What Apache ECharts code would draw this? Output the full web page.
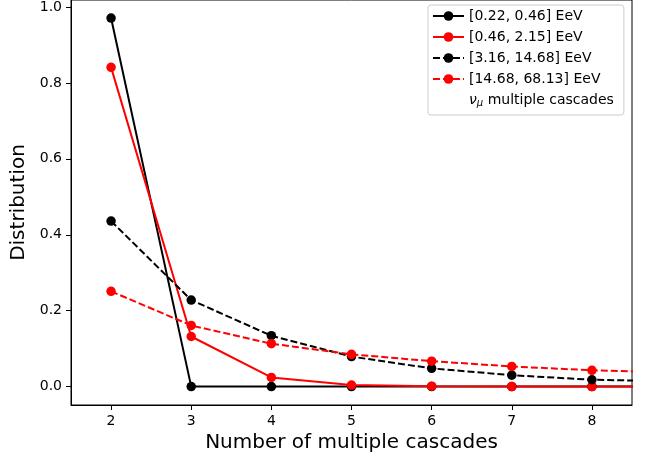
<!DOCTYPE html>
<html>
<head>
<meta charset="utf-8">
<script src="https://cdn.jsdelivr.net/npm/echarts@6/dist/echarts.min.js"></script>
<style>
html,body{margin:0;padding:0;background:#fff;}
#chart{width:657px;height:462px;}
</style>
</head>
<body>
<div id="chart"></div>
<script>
const xValues = [2, 3, 4, 5, 6, 7, 8, 9];
const seriesNames = ['[0.22, 0.46] EeV', '[0.46, 2.15] EeV', '[3.16, 14.68] EeV', '[14.68, 68.13] EeV'];
const s1 = [0.971, 0.0, 0.0, 0.0, 0.0, 0.0, 0.0, 0.0];
const s2 = [0.841, 0.132, 0.024, 0.004, 0.001, 0.0, 0.0, 0.0];
const s3 = [0.436, 0.228, 0.134, 0.079, 0.048, 0.030, 0.018, 0.014];
const s4 = [0.251, 0.161, 0.113, 0.085, 0.067, 0.053, 0.043, 0.037];
const xTicks = [2, 3, 4, 5, 6, 7, 8];
const yTicks = [0.0, 0.2, 0.4, 0.6, 0.8, 1.0];
const extraLegend = 'nu_mu';

const FONT = 'DejaVu Sans';
const chart = echarts.init(document.getElementById('chart'), null, {renderer: 'canvas'});

function mk(name, vals, color, dashed) {
  return {
    type: 'line', name: name,
    data: xValues.map((x, i) => [x, vals[i]]),
    symbol: 'circle', symbolSize: 9.5,
    clip: true,
    itemStyle: {color: color},
    lineStyle: {color: color, width: 2, type: dashed ? [7, 3] : 'solid'},
    emphasis: {disabled: true},
    silent: true
  };
}

chart.setOption({
  animation: false,
  backgroundColor: '#fff',
  grid: {left: 71, right: 25, top: -1, bottom: 57, show: true, borderColor: '#000', borderWidth: 1, backgroundColor: 'transparent'},
  xAxis: {
    type: 'value', min: 1.5, max: 8.5,
    name: 'Number of multiple cascades', nameLocation: 'middle', nameGap: 25,
    nameTextStyle: {fontFamily: FONT, fontSize: 20, color: '#000'},
    axisLine: {show: true, onZero: false, lineStyle: {color: '#000', width: 1}},
    axisTick: {show: true, length: 5, customValues: xTicks, lineStyle: {color: '#000'}},
    axisLabel: {customValues: xTicks, margin: 9, fontFamily: FONT, fontSize: 14, color: '#000'},
    splitLine: {show: false}
  },
  yAxis: {
    type: 'value', min: -0.0485, max: 1.0185,
    name: 'Distribution', nameLocation: 'middle', nameGap: 34,
    nameTextStyle: {fontFamily: FONT, fontSize: 20, color: '#000'},
    axisLine: {show: true, onZero: false, lineStyle: {color: '#000', width: 1}},
    axisTick: {show: true, length: 5, customValues: yTicks, lineStyle: {color: '#000'}},
    axisLabel: {customValues: yTicks, margin: 9, fontFamily: FONT, fontSize: 14, color: '#000',
      formatter: v => Number(v).toFixed(1)},
    splitLine: {show: false}
  },
  legend: {
    orient: 'vertical', left: 428, top: 5,
    padding: [4, 10, 7, 4],
    itemWidth: 31, itemHeight: 12, itemGap: 7, itemTextGap: 12,
    selectedMode: false,
    borderColor: '#cccccc', borderWidth: 1, borderRadius: 3,
    backgroundColor: '#fff',
    textStyle: {fontFamily: FONT, fontSize: 14, color: '#000',
      rich: {
        nu: {fontFamily: FONT, fontSize: 14, fontStyle: 'italic', color: '#000'},
        mu: {fontFamily: FONT, fontSize: 10, fontStyle: 'italic', color: '#000', verticalAlign: 'bottom', padding: [6, 0, 0, 0]},
        t: {fontFamily: FONT, fontSize: 14, color: '#000'}
      }
    },
    formatter: n => n === extraLegend ? '{nu|ν}{mu|μ}{t| multiple cascades}' : n,
    data: seriesNames.concat([extraLegend])
  },
  series: [
    mk(seriesNames[0], s1, '#000000', false),
    mk(seriesNames[1], s2, '#ff0000', false),
    mk(seriesNames[2], s3, '#000000', true),
    mk(seriesNames[3], s4, '#ff0000', true),
    {type: 'line', name: extraLegend, data: [], symbol: 'none', color: 'rgba(0,0,0,0)',
     itemStyle: {color: 'rgba(0,0,0,0)'}, lineStyle: {color: 'rgba(0,0,0,0)'}}
  ]
});
</script>
</body>
</html>
